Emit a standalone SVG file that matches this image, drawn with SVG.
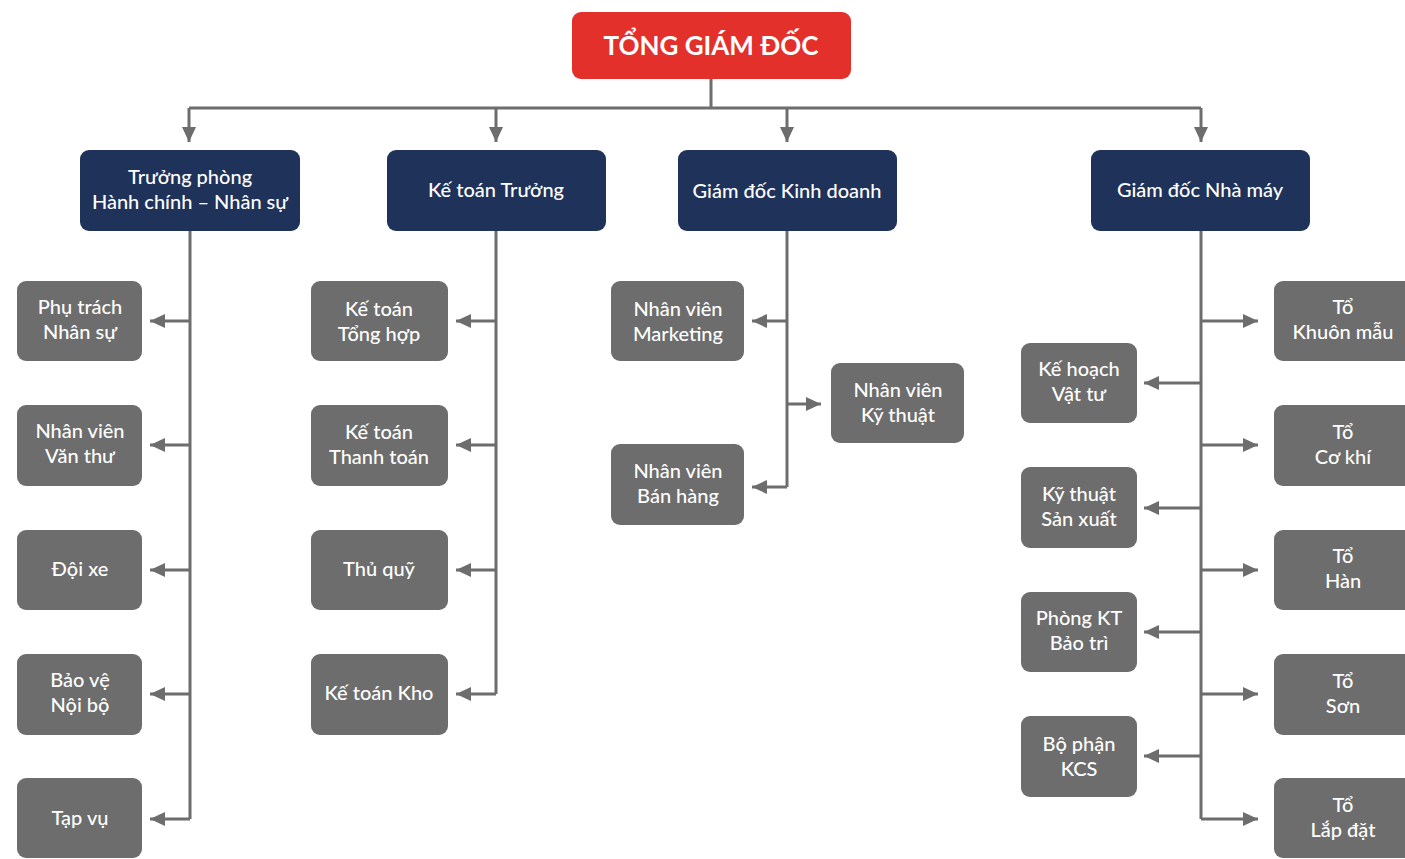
<svg xmlns="http://www.w3.org/2000/svg" width="1405" height="859" viewBox="0 0 1405 859">
<style>
.top{fill:#E3302B}
.mid{fill:#1F325A}
.leaf{fill:#6D6D6D}
text{font-family:Lato,"Open Sans","Noto Sans",sans-serif;fill:#fff;text-anchor:middle;font-size:20px;font-weight:500}
.tt{font-size:26px;font-weight:700}
.c{fill:none;stroke:#6D6D6D;stroke-width:3}
</style>
<defs>
<marker id="ah" markerWidth="16" markerHeight="14" refX="15" refY="7" orient="auto" markerUnits="userSpaceOnUse">
<path d="M0,0 L15,7 L0,14 Z" fill="#6D6D6D"/>
</marker>
</defs>
<g id="connectors">
<path class="c" d="M711,79 V108 M189,108 H1201"/>
<path class="c" d="M189,108 V142" marker-end="url(#ah)"/>
<path class="c" d="M496,108 V142" marker-end="url(#ah)"/>
<path class="c" d="M787,108 V142" marker-end="url(#ah)"/>
<path class="c" d="M1201,108 V142" marker-end="url(#ah)"/>
<path class="c" d="M190,231 V819"/>
<path class="c" d="M190,321 H150" marker-end="url(#ah)"/>
<path class="c" d="M190,445 H150" marker-end="url(#ah)"/>
<path class="c" d="M190,570 H150" marker-end="url(#ah)"/>
<path class="c" d="M190,694 H150" marker-end="url(#ah)"/>
<path class="c" d="M190,819 H150" marker-end="url(#ah)"/>
<path class="c" d="M496,231 V694"/>
<path class="c" d="M496,321 H456" marker-end="url(#ah)"/>
<path class="c" d="M496,445 H456" marker-end="url(#ah)"/>
<path class="c" d="M496,570 H456" marker-end="url(#ah)"/>
<path class="c" d="M496,694 H456" marker-end="url(#ah)"/>
<path class="c" d="M787,231 V487"/>
<path class="c" d="M787,321 H752" marker-end="url(#ah)"/>
<path class="c" d="M787,487 H752" marker-end="url(#ah)"/>
<path class="c" d="M787,404 H821" marker-end="url(#ah)"/>
<path class="c" d="M1201,231 V819"/>
<path class="c" d="M1201,383 H1144" marker-end="url(#ah)"/>
<path class="c" d="M1201,508 H1144" marker-end="url(#ah)"/>
<path class="c" d="M1201,632 H1144" marker-end="url(#ah)"/>
<path class="c" d="M1201,756 H1144" marker-end="url(#ah)"/>
<path class="c" d="M1201,321 H1258" marker-end="url(#ah)"/>
<path class="c" d="M1201,445 H1258" marker-end="url(#ah)"/>
<path class="c" d="M1201,570 H1258" marker-end="url(#ah)"/>
<path class="c" d="M1201,694 H1258" marker-end="url(#ah)"/>
<path class="c" d="M1201,819 H1258" marker-end="url(#ah)"/>
</g>
<g id="tgd"><rect class="top" x="572" y="12" width="279" height="67" rx="9"/><text class="tt" x="711" y="55">TỔNG GIÁM ĐỐC</text></g>
<g id="hcns"><rect class="mid" x="80" y="150" width="220" height="81" rx="9"/><text x="190" y="184">Trưởng phòng</text><text x="190" y="209">Hành chính – Nhân sự</text></g>
<g id="ktt"><rect class="mid" x="387" y="150" width="219" height="81" rx="9"/><text x="496" y="197">Kế toán Trưởng</text></g>
<g id="gdkd"><rect class="mid" x="678" y="150" width="219" height="81" rx="9"/><text x="787" y="198">Giám đốc Kinh doanh</text></g>
<g id="gdnm"><rect class="mid" x="1091" y="150" width="219" height="81" rx="9"/><text x="1200" y="197">Giám đốc Nhà máy</text></g>
<g id="ptns"><rect class="leaf" x="17" y="281" width="125" height="80" rx="9"/><text x="80" y="314">Phụ trách</text><text x="80" y="339">Nhân sự</text></g>
<g id="nvvt"><rect class="leaf" x="17" y="405" width="125" height="81" rx="9"/><text x="80" y="438">Nhân viên</text><text x="80" y="463">Văn thư</text></g>
<g id="doixe"><rect class="leaf" x="17" y="530" width="125" height="80" rx="9"/><text x="80" y="576">Đội xe</text></g>
<g id="bvnb"><rect class="leaf" x="17" y="654" width="125" height="81" rx="9"/><text x="80" y="687">Bảo vệ</text><text x="80" y="712">Nội bộ</text></g>
<g id="tapvu"><rect class="leaf" x="17" y="778" width="125" height="80" rx="9"/><text x="80" y="825">Tạp vụ</text></g>
<g id="ktth"><rect class="leaf" x="311" y="281" width="137" height="80" rx="9"/><text x="379" y="316">Kế toán</text><text x="379" y="341">Tổng hợp</text></g>
<g id="kttt"><rect class="leaf" x="311" y="405" width="137" height="81" rx="9"/><text x="379" y="439">Kế toán</text><text x="379" y="464">Thanh toán</text></g>
<g id="thuquy"><rect class="leaf" x="311" y="530" width="137" height="80" rx="9"/><text x="379" y="576">Thủ quỹ</text></g>
<g id="ktkho"><rect class="leaf" x="311" y="654" width="137" height="81" rx="9"/><text x="379" y="700">Kế toán Kho</text></g>
<g id="nvmk"><rect class="leaf" x="611" y="281" width="133" height="80" rx="9"/><text x="678" y="316">Nhân viên</text><text x="678" y="341">Marketing</text></g>
<g id="nvbh"><rect class="leaf" x="611" y="444" width="133" height="81" rx="9"/><text x="678" y="478">Nhân viên</text><text x="678" y="503">Bán hàng</text></g>
<g id="nvkt"><rect class="leaf" x="831" y="363" width="133" height="80" rx="9"/><text x="898" y="397">Nhân viên</text><text x="898" y="422">Kỹ thuật</text></g>
<g id="khvt"><rect class="leaf" x="1021" y="343" width="116" height="80" rx="9"/><text x="1079" y="376">Kế hoạch</text><text x="1079" y="401">Vật tư</text></g>
<g id="ktsx"><rect class="leaf" x="1021" y="467" width="116" height="81" rx="9"/><text x="1079" y="501">Kỹ thuật</text><text x="1079" y="526">Sản xuất</text></g>
<g id="pktbt"><rect class="leaf" x="1021" y="592" width="116" height="80" rx="9"/><text x="1079" y="625">Phòng KT</text><text x="1079" y="650">Bảo trì</text></g>
<g id="kcs"><rect class="leaf" x="1021" y="716" width="116" height="81" rx="9"/><text x="1079" y="751">Bộ phận</text><text x="1079" y="776">KCS</text></g>
<g id="tkm"><rect class="leaf" x="1274" y="281" width="140" height="80" rx="9"/><text x="1343" y="314">Tổ</text><text x="1343" y="339">Khuôn mẫu</text></g>
<g id="tck"><rect class="leaf" x="1274" y="405" width="140" height="81" rx="9"/><text x="1343" y="439">Tổ</text><text x="1343" y="464">Cơ khí</text></g>
<g id="than"><rect class="leaf" x="1274" y="530" width="140" height="80" rx="9"/><text x="1343" y="563">Tổ</text><text x="1343" y="588">Hàn</text></g>
<g id="tson"><rect class="leaf" x="1274" y="654" width="140" height="81" rx="9"/><text x="1343" y="688">Tổ</text><text x="1343" y="713">Sơn</text></g>
<g id="tld"><rect class="leaf" x="1274" y="778" width="140" height="80" rx="9"/><text x="1343" y="812">Tổ</text><text x="1343" y="837">Lắp đặt</text></g>
</svg>
